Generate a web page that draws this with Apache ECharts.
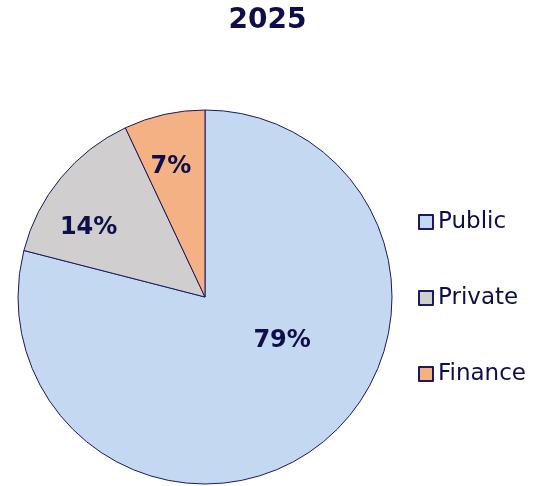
<!DOCTYPE html>
<html>
<head>
<meta charset="utf-8">
<script src="https://cdn.jsdelivr.net/npm/echarts@6/dist/echarts.min.js"></script>
<style>
  html, body { margin: 0; padding: 0; background: #fff; }
  #chart { width: 535px; height: 486px; }
</style>
</head>
<body>
<div id="chart"></div>
<script>
  // 数据
  const categories = ['Public', 'Private', 'Finance']
  const shares = [79, 14, 7]
  const colors = ['#C5D8F2', '#D0CECE', '#F4B183']
  // label nudges so they sit where the original put them
  const labelOffsets = [[18, -32], [-42, -8], [-13, -36]]

  const navy = '#0E0E4A'
  const font = 'DejaVu Sans, Verdana, sans-serif'

  const myChart = echarts.init(document.getElementById('chart'))
  myChart.setOption({
    animation: false,
    title: {
      text: '2025',
      left: 'center',
      top: 2,
      textStyle: { color: navy, fontSize: 28, fontWeight: 'bold', fontFamily: font }
    },
    legend: {
      orient: 'vertical',
      left: 413,
      top: 205,
      itemWidth: 14,
      itemHeight: 14,
      itemGap: 52,
      icon: 'rect',
      data: categories,
      textStyle: { color: navy, fontSize: 23, lineHeight: 24, fontFamily: font, padding: [0, 0, 0, 0] }
    },
    series: [{
      type: 'pie',
      center: [205, 297],
      radius: 187,
      startAngle: 90,
      clockwise: true,
      avoidLabelOverlap: false,
      itemStyle: { borderColor: '#1A1A5E', borderWidth: 1 },
      label: {
        show: true,
        position: 'inside',
        color: navy,
        fontSize: 24,
        fontWeight: 'bold',
        fontFamily: font,
        formatter: p => Math.round(p.percent) + '%'
      },
      labelLine: { show: false },
      emphasis: { disabled: true },
      data: categories.map((name, i) => ({
        name: name,
        value: shares[i],
        itemStyle: { color: colors[i] },
        label: { offset: labelOffsets[i] }
      }))
    }]
  })
</script>
</body>
</html>
